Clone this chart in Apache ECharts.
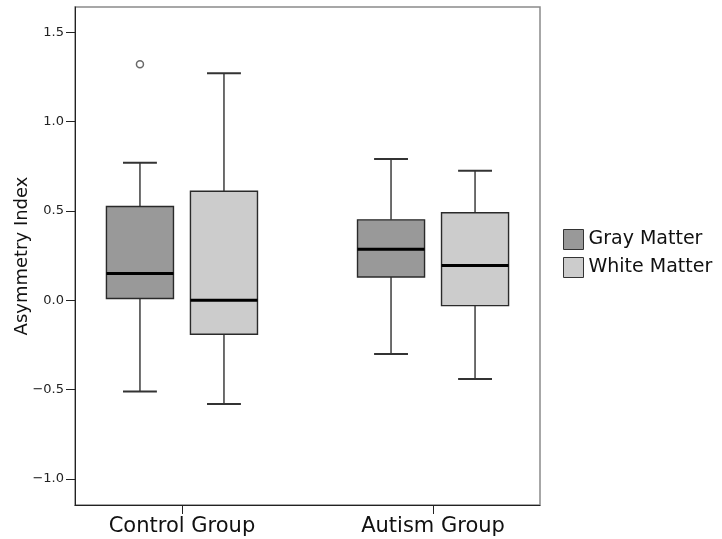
<!DOCTYPE html>
<html>
<head>
<meta charset="utf-8">
<script src="https://cdn.jsdelivr.net/npm/echarts@6/dist/echarts.min.js"></script>
<style>
html,body{margin:0;padding:0;background:#fff;}
#chart{width:722px;height:539px;}
</style>
</head>
<body>
<div id="chart"></div>
<script>
// ---- data ----
const categories = ['Control Group', 'Autism Group'];
const seriesNames = ['Gray Matter', 'White Matter'];
const yTicks = [-1.0, -0.5, 0.0, 0.5, 1.0, 1.5];

const grayMin    = [-0.51, -0.30];
const grayQ1     = [0.01, 0.13];
const grayMedian = [0.15, 0.285];
const grayQ3     = [0.525, 0.45];
const grayMax    = [0.77, 0.79];
const grayOutliers = [[0, 1.32]]; // [category index, value]

const whiteMin    = [-0.58, -0.44];
const whiteQ1     = [-0.19, -0.03];
const whiteMedian = [0.0, 0.195];
const whiteQ3     = [0.61, 0.49];
const whiteMax    = [1.27, 0.725];
const whiteOutliers = [];

// ---- layout constants ----
const X_MIN = -0.426, X_MAX = 1.426;
const OFFSET = 0.1673;      // dodge of each box from category centre (axis units)
const BOX_W = 0.267;        // box width (axis units)
const CAP_W = 0.135;        // whisker cap width (axis units)
const FONT = '"DejaVu Sans", sans-serif';

function buildBoxData(mins, q1s, meds, q3s, maxs) {
  return categories.map((c, i) => [i, mins[i], q1s[i], meds[i], q3s[i], maxs[i]]);
}

function makeRender(fill) {
  return function (params, api) {
    const x = api.value(0);
    const pMin = api.coord([x, api.value(1)]);
    const pQ1 = api.coord([x, api.value(2)]);
    const pMed = api.coord([x, api.value(3)]);
    const pQ3 = api.coord([x, api.value(4)]);
    const pMax = api.coord([x, api.value(5)]);
    const unit = api.size([1, 0])[0];
    const bw = unit * BOX_W, cw = unit * CAP_W;
    const cx = pMed[0];
    const wStyle = {stroke: '#4a4a4a', lineWidth: 1.6};
    return {
      type: 'group',
      children: [
        {type: 'line', shape: {x1: cx, y1: pMax[1], x2: cx, y2: pQ3[1]}, style: wStyle},
        {type: 'line', shape: {x1: cx, y1: pQ1[1], x2: cx, y2: pMin[1]}, style: wStyle},
        {type: 'line', shape: {x1: cx - cw / 2, y1: pMax[1], x2: cx + cw / 2, y2: pMax[1]}, style: {stroke: '#333', lineWidth: 2}},
        {type: 'line', shape: {x1: cx - cw / 2, y1: pMin[1], x2: cx + cw / 2, y2: pMin[1]}, style: {stroke: '#333', lineWidth: 2}},
        {type: 'rect', shape: {x: cx - bw / 2, y: pQ3[1], width: bw, height: pQ1[1] - pQ3[1]},
          style: {fill: fill, stroke: '#2a2a2a', lineWidth: 1.4}},
        {type: 'line', shape: {x1: cx - bw / 2, y1: pMed[1], x2: cx + bw / 2, y2: pMed[1]}, style: {stroke: '#000', lineWidth: 3}}
      ]
    };
  };
}

const GRAY = '#999999', WHITE = '#cccccc';

const chart = echarts.init(document.getElementById('chart'), null, {renderer: 'canvas'});
chart.setOption({
  animation: false,
  backgroundColor: '#fff',
  grid: {left: 75, right: 182, top: 7, bottom: 34, containLabel: false, outerBoundsMode: 'none',
    show: true, borderColor: '#8a8a8a', borderWidth: 1.5, backgroundColor: 'transparent'},
  legend: {
    orient: 'vertical', left: 563, top: 229, padding: 0,
    itemWidth: 20, itemHeight: 20, itemGap: 7, icon: 'rect',
    textStyle: {fontFamily: FONT, fontSize: 19, color: '#111'},
    data: [
      {name: seriesNames[0], itemStyle: {color: GRAY, borderColor: '#333', borderWidth: 1}},
      {name: seriesNames[1], itemStyle: {color: WHITE, borderColor: '#333', borderWidth: 1}}
    ]
  },
  xAxis: [
    {
      type: 'value', min: X_MIN, max: X_MAX, splitLine: {show: false},
      axisLine: {show: true, onZero: false, lineStyle: {color: '#222', width: 1}},
      axisTick: {show: true, customValues: [0, 1], length: 9, lineStyle: {color: '#222'}},
      axisLabel: {show: true, customValues: [0, 1], margin: 11, fontFamily: FONT, fontSize: 21, color: '#111',
        formatter: v => categories[Math.round(v)] || ''}
    },
    {type: 'value', min: X_MIN + OFFSET, max: X_MAX + OFFSET, show: false, splitLine: {show: false}},
    {type: 'value', min: X_MIN - OFFSET, max: X_MAX - OFFSET, show: false, splitLine: {show: false}}
  ],
  yAxis: {
    type: 'value', min: -1.1455, max: 1.641,
    name: 'Asymmetry Index', nameLocation: 'middle', nameGap: 44, nameMoveOverlap: false,
    nameTextStyle: {fontFamily: FONT, fontSize: 18, color: '#111'},
    splitLine: {show: false},
    axisLine: {show: true, onZero: false, lineStyle: {color: '#222', width: 1}},
    axisTick: {show: true, customValues: yTicks, length: 9, lineStyle: {color: '#222'}},
    axisLabel: {show: true, customValues: yTicks, margin: 11, fontFamily: FONT, fontSize: 13, color: '#222',
      formatter: v => (v < 0 ? '\u2212' : '') + Math.abs(v).toFixed(1)}
  },
  series: [
    {
      name: seriesNames[0], type: 'custom', xAxisIndex: 1,
      itemStyle: {color: GRAY},
      encode: {x: 0, y: [1, 2, 3, 4, 5]},
      renderItem: makeRender(GRAY),
      data: buildBoxData(grayMin, grayQ1, grayMedian, grayQ3, grayMax)
    },
    {
      name: seriesNames[1], type: 'custom', xAxisIndex: 2,
      itemStyle: {color: WHITE},
      encode: {x: 0, y: [1, 2, 3, 4, 5]},
      renderItem: makeRender(WHITE),
      data: buildBoxData(whiteMin, whiteQ1, whiteMedian, whiteQ3, whiteMax)
    },
    {
      name: seriesNames[0] + ' outliers', type: 'scatter', xAxisIndex: 1,
      symbol: 'circle', symbolSize: 7,
      itemStyle: {color: '#fff', borderColor: '#444', borderWidth: 1.5},
      data: grayOutliers
    },
    {
      name: seriesNames[1] + ' outliers', type: 'scatter', xAxisIndex: 2,
      symbol: 'circle', symbolSize: 7,
      itemStyle: {color: '#fff', borderColor: '#444', borderWidth: 1.5},
      data: whiteOutliers
    }
  ]
});
</script>
</body>
</html>
